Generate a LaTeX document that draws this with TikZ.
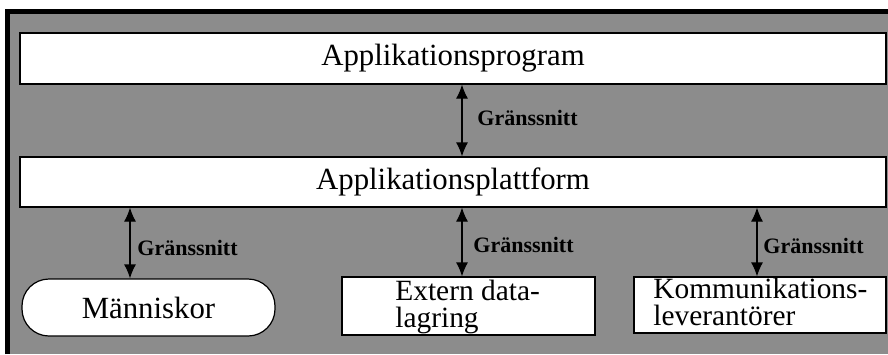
\documentclass[tikz,border=0pt]{standalone}
\usepackage{fontspec}
\setmainfont{Liberation Serif}
\usetikzlibrary{arrows.meta}
\begin{document}
\begin{tikzpicture}[x=0.5pt,y=-0.5pt,
  panel/.style={draw=black, line width=0.6pt, fill=white, inner sep=0pt},
  big/.style={font=\fontsize{15.4}{17}\selectfont},
  boxtext/.style={font=\fontsize{14.7}{13.3}\selectfont, inner sep=0pt, align=left, anchor=base west},
  iface/.style={font=\fontsize{11}{13}\selectfont\bfseries, inner sep=0pt, anchor=base west},
  link/.style={line width=0.6pt, {Latex[length=7pt,width=6pt]}-{Latex[length=7pt,width=6pt]}}
]
\useasboundingbox (0,0) rectangle (888,354);
\fill[white] (0,0) rectangle (888,354);
% shaded frame with heavy left and top edges
\fill[black!45] (8,10) rectangle (888,354);
\draw[line width=2.5pt] (7.5,354) -- (7.5,11) -- (888,11);

% layers
\node[panel, big, minimum width=433pt, minimum height=25.5pt] (prog) at (453,58.5) {Applikationsprogram};
\node[panel, big, minimum width=433pt, minimum height=25pt] (plat) at (453,182) {Applikationsplattform};

% resources (two-line labels are anchored at the baseline of their last line)
\node[panel, big, rounded corners=13.5pt, minimum width=126.5pt, minimum height=28.5pt] (mann) at (148.5,307.5) {Människor};
\node[panel, minimum width=126.5pt, minimum height=29pt] (ext) at (468.5,306) {};
\node[boxtext] (ext-t) at (395,327) {Extern data-\\lagring};
\node[panel, minimum width=126pt, minimum height=28pt] (komm) at (760,305) {};
\node[boxtext] (komm-t) at (653,325) {Kommunikations-\\leverantörer};

% interface arrows
\coordinate (xa) at (462,0);
\coordinate (xb) at (130,0);
\coordinate (xc) at (757,0);
\draw[link] (prog.south -| xa) -- (plat.north -| xa);
\draw[link] (plat.south -| xb) -- (mann.north -| xb);
\draw[link] (plat.south -| xa) -- (ext.north -| xa);
\draw[link] (plat.south -| xc) -- (komm.north -| xc);

\node[iface] (g1) at (477,125) {Gränssnitt};
\node[iface] (g2) at (137,255) {Gränssnitt};
\node[iface] (g3) at (473,252) {Gränssnitt};
\node[iface] (g4) at (763,253) {Gränssnitt};
\end{tikzpicture}
\end{document}
